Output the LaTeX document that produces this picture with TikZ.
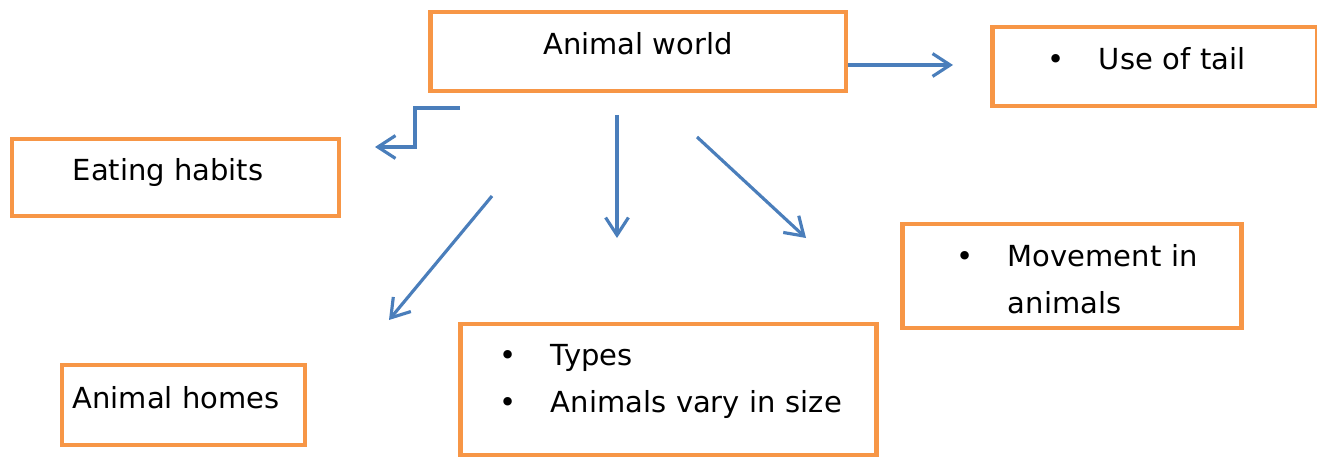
\documentclass[tikz,border=0pt]{standalone}
\usepackage{fontspec}
\setmainfont{DejaVu Sans}
\usetikzlibrary{arrows.meta}
\definecolor{boxorange}{HTML}{F79646}
\definecolor{linkblue}{HTML}{4A7EBB}
\newcommand{\bul}{\makebox[1.03cm][l]{\textbullet}}
\tikzset{
  topic/.style={draw=boxorange, line width=2.8pt, fill=white, font=\fontsize{16.5}{27}\selectfont},
  onetopic/.style={topic, text height=0.46cm, text depth=0.32cm},
  listtopic/.style={topic, align=left, anchor=west},
  link/.style={draw=linkblue, line width=1.8pt, -{Straight Barb[length=10pt,width=13pt]}}
}
\begin{document}
\begin{tikzpicture}[x=0.02cm,y=-0.02cm]
  \useasboundingbox (0,0) rectangle (1317,459);
  \node[onetopic, minimum width=8.32cm, minimum height=1.58cm] (world) at (638,51.5) {Animal world};
  \node[listtopic, onetopic, minimum height=1.58cm, text width=4.3cm, inner xsep=1.1cm] (tail) at (990,66.5) {\bul Use of tail};
  \node[onetopic, minimum width=6.54cm, minimum height=1.54cm] (eating) at (175.5,177.5) {Eating habits\hspace*{0.3cm}};
  \node[listtopic, minimum height=2.08cm, text width=4.62cm, inner xsep=1.08cm, text height=0.45cm, text depth=0.85cm] (movement) at (900,276) {\bul\mbox{Movement in}\\\hspace*{1.03cm}animals};
  \node[listtopic, minimum height=2.62cm, text width=6.76cm, inner xsep=0.78cm, text height=0.45cm, text depth=1.43cm] (types) at (458,389.5) {\bul\mbox{Types}\\\bul\mbox{Animals vary in size}};
  \node[onetopic, minimum width=4.86cm, minimum height=1.6cm] (homes) at (183.5,405) {Animal homes\hspace*{0.3cm}};
  \coordinate (tailS) at (848,65);
  \coordinate (tailE) at (953,65);
  \coordinate (eatS) at (460,108);
  \coordinate (eatK) at (415,147);
  \coordinate (eatE) at (375,147);
  \coordinate (typeS) at (617,115);
  \coordinate (typeE) at (617,238);
  \coordinate (moveS) at (697,137);
  \coordinate (moveE) at (806,238);
  \coordinate (homeS) at (492,196);
  \coordinate (homeE) at (389,320);
  \draw[link] (tailS) -- (tailE);
  \draw[link] (eatS) -| (eatK) -- (eatE);
  \draw[link] (typeS) -- (typeE);
  \draw[link] (moveS) -- (moveE);
  \draw[link] (homeS) -- (homeE);
\end{tikzpicture}
\end{document}
